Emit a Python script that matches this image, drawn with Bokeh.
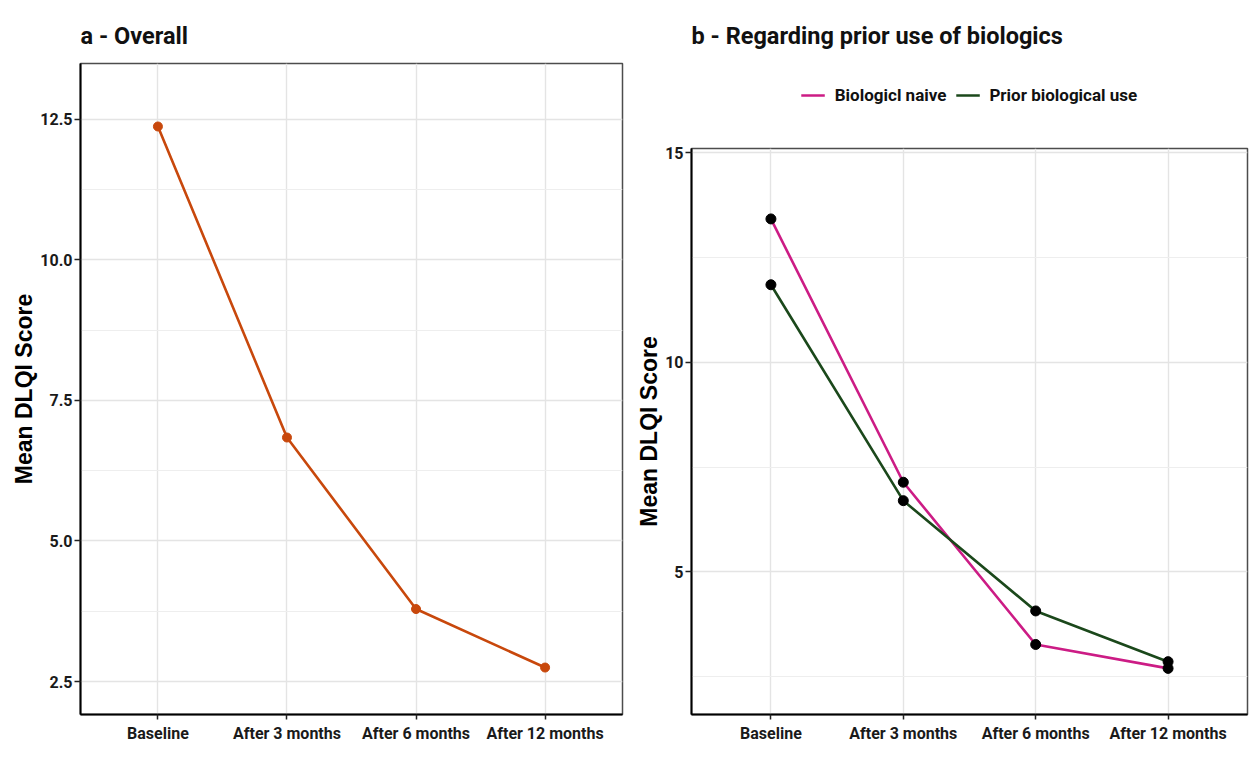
from bokeh.plotting import figure
from bokeh.models import (Range1d, FactorRange, FixedTicker, NumeralTickFormatter,
                          Legend, LegendItem)
from bokeh.layouts import row, column
from bokeh.embed import file_html
from bokeh.resources import INLINE

# ---------------- data ----------------
categories = ["Baseline", "After 3 months", "After 6 months", "After 12 months"]
overall_dlqi = [12.37, 6.84, 3.79, 2.75]
naive_dlqi = [13.42, 7.14, 3.27, 2.70]
prior_dlqi = [11.85, 6.70, 4.07, 2.86]

ticks_a = [2.5, 5.0, 7.5, 10.0, 12.5]
minor_a = [3.75, 6.25, 8.75, 11.25]
ticks_b = [5, 10, 15]
minor_b = [2.5, 7.5, 12.5]

title_a = "a - Overall"
title_b = "b - Regarding prior use of biologics"
y_title = "Mean DLQI Score"
legend_labels = ["Biologicl naive", "Prior biological use"]

# ---------------- style ----------------
FONT = "Roboto"
ORANGE = "#C8480C"
PINK = "#CC1C85"
GREEN = "#1B481B"


def title_style(p):
    p.title.text_font = FONT
    p.title.text_font_style = "bold"
    p.title.text_font_size = "23.5px"
    p.title.text_color = "#111111"


def style(p, ticks, minor, fmt):
    p.background_fill_color = "white"
    p.border_fill_color = "white"
    p.outline_line_color = "#4d4d4d"
    p.outline_line_width = 1.5
    for ax in (p.xaxis[0], p.yaxis[0]):
        ax.axis_line_color = "black"
        ax.axis_line_width = 2
        ax.major_tick_line_color = "#222222"
        ax.major_tick_line_width = 1.5
        ax.major_tick_in = 0
        ax.minor_tick_line_color = None
        ax.major_label_text_font = FONT
        ax.major_label_text_font_style = "bold"
        ax.major_label_text_font_size = "16px"
        ax.major_label_text_color = "#1a1a1a"
    p.xaxis.major_tick_out = 5
    p.yaxis.major_tick_out = 6
    p.xaxis.major_label_standoff = 4
    p.yaxis.major_label_standoff = 2
    tk = FixedTicker(ticks=ticks, minor_ticks=minor)
    p.yaxis.ticker = tk
    p.ygrid.ticker = tk
    p.yaxis.formatter = NumeralTickFormatter(format=fmt)
    p.yaxis.axis_label = y_title
    p.yaxis.axis_label_text_font = "Liberation Sans"
    p.yaxis.axis_label_text_font_style = "bold"
    p.yaxis.axis_label_text_font_size = "23px"
    p.yaxis.axis_label_text_color = "black"
    p.yaxis.axis_label_standoff = 0
    p.xgrid.grid_line_color = "#e4e4e4"
    p.xgrid.grid_line_width = 1.4
    p.ygrid.grid_line_color = "#e4e4e4"
    p.ygrid.grid_line_width = 1.4
    p.ygrid.minor_grid_line_color = "#eeeeee"
    p.ygrid.minor_grid_line_width = 1.2


H = 745
HEAD = 128

# ---------------- panel a ----------------
p1 = figure(width=630, height=H, output_backend="svg", toolbar_location=None,
            title=title_a,
            x_range=FactorRange(factors=categories, range_padding=0.1,
                                range_padding_units="absolute"),
            y_range=Range1d(1.915, 13.49),
            min_border_left=80, min_border_right=8,
            min_border_top=63, min_border_bottom=29)
style(p1, ticks_a, minor_a, "0.0")
title_style(p1)
p1.title.standoff = 27
p1.line(categories, overall_dlqi, line_color=ORANGE, line_width=2.6)
p1.scatter(categories, overall_dlqi, size=9, fill_color=ORANGE, line_color=ORANGE)

# ---------------- panel b: header with title and legend ----------------
# the header's y range lies outside the data, so its lines serve only as legend keys
head = figure(width=620, height=HEAD, output_backend="svg", toolbar_location=None,
              title=title_b,
              x_range=FactorRange(factors=categories), y_range=Range1d(100, 101),
              x_axis_location=None, y_axis_location=None,
              min_border_left=61, min_border_right=3,
              min_border_top=62, min_border_bottom=0)
head.grid.visible = False
head.outline_line_color = None
head.background_fill_color = "white"
head.border_fill_color = "white"
title_style(head)
head.title.standoff = 25
h_naive = head.line(categories, naive_dlqi, line_color=PINK, line_width=2.6)
h_prior = head.line(categories, prior_dlqi, line_color=GREEN, line_width=2.6)
legend = Legend(items=[LegendItem(label=legend_labels[0], renderers=[h_naive]),
                       LegendItem(label=legend_labels[1], renderers=[h_prior])],
                orientation="horizontal", location="center",
                margin=0, padding=4, spacing=9,
                glyph_width=24, glyph_height=20, label_standoff=10,
                label_text_font=FONT, label_text_font_style="bold",
                label_text_font_size="17px", label_text_color="#111111",
                border_line_color=None, background_fill_alpha=0)
head.add_layout(legend, "center")

# ---------------- panel b: plot ----------------
p2 = figure(width=620, height=H - HEAD, output_backend="svg", toolbar_location=None,
            x_range=FactorRange(factors=categories, range_padding=0.1,
                                range_padding_units="absolute"),
            y_range=Range1d(1.60, 15.10),
            min_border_left=61, min_border_right=3,
            min_border_top=20, min_border_bottom=29)
style(p2, ticks_b, minor_b, "0")
p2.line(categories, naive_dlqi, line_color=PINK, line_width=2.6)
p2.line(categories, prior_dlqi, line_color=GREEN, line_width=2.6)
p2.scatter(categories, naive_dlqi, size=10, fill_color="black", line_color="black")
p2.scatter(categories, prior_dlqi, size=10, fill_color="black", line_color="black")

layout = row(p1, column(head, p2))

open("out.html", "w").write(file_html(layout, INLINE))
